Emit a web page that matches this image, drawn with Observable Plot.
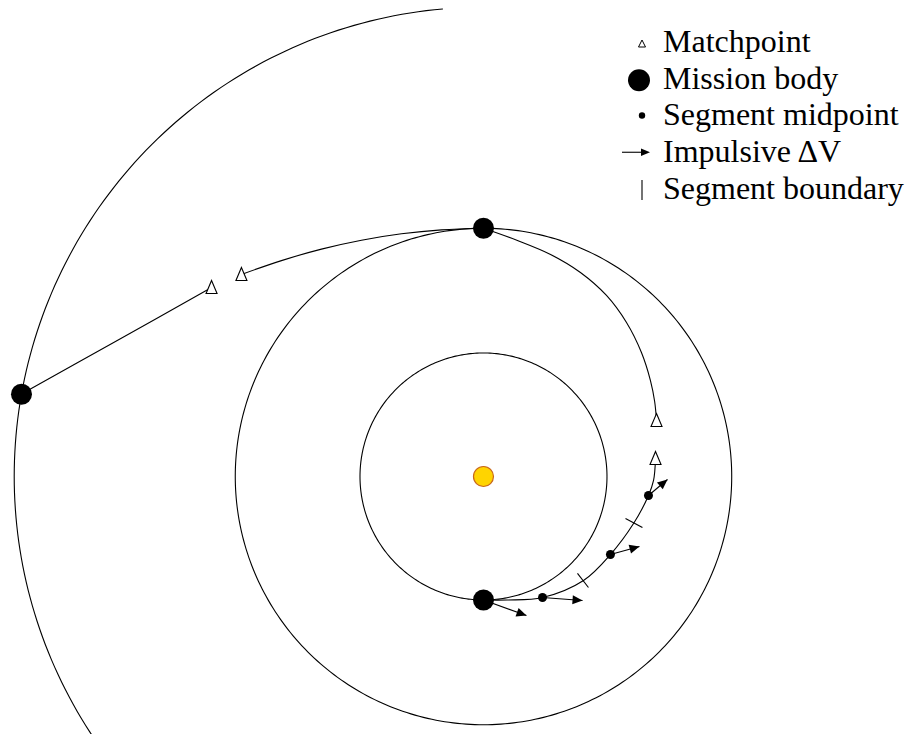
<!DOCTYPE html>
<html><head><meta charset="utf-8">
<script src="https://cdn.jsdelivr.net/npm/d3@7"></script>
<script src="https://cdn.jsdelivr.net/npm/@observablehq/plot@0.6"></script>
<style>
html,body{margin:0;padding:0;background:#fff;}
#wrap{position:relative;width:913px;height:734px;overflow:hidden;}
#wrap svg{display:block;}
#legendsym{position:absolute;left:0;top:0;}
</style></head><body><div id="wrap"></div>
<script>
// ---- data (units: inner orbit radius = 1) ----
const orbitRadii    = [1.00, 2.01, 3.80];
const orbitArcStart = [0, 0, 95];     // degrees
const orbitArcEnd   = [360, 360, 215];

const sunX = [0], sunY = [0];

const bodyX = [-3.741, 0, 0];
const bodyY = [0.666, 2.01, -1.00];

const legA_x = [-3.741, -2.980, -2.202];
const legA_y = [0.668, 1.093, 1.530];
const legB_x = [-1.960, -1.636, -1.312, -0.988, -0.664, -0.340, 0];
const legB_y = [1.636, 1.748, 1.841, 1.913, 1.965, 1.997, 2.01];
const legC_x = [0, 0.275, 0.543, 0.785, 0.996, 1.158, 1.279, 1.352, 1.386, 1.401];
const legC_y = [2.01, 1.911, 1.798, 1.652, 1.466, 1.247, 1.004, 0.777, 0.607, 0.453];
const legD_x = [1.393, 1.377, 1.336, 1.215, 1.028, 0.810, 0.478, 0.194, 0];
const legD_y = [0.146, -0.032, -0.154, -0.381, -0.632, -0.842, -0.980, -1.000, -1.00];

const matchX = [-2.202, -1.960, 1.401, 1.393];
const matchY = [1.530, 1.636, 0.453, 0.146];

const midX = [1.336, 1.028, 0.478];
const midY = [-0.154, -0.632, -0.980];

const bndX1 = [1.150, 0.761], bndY1 = [-0.340, -0.785];
const bndX2 = [1.287, 0.850], bndY2 = [-0.413, -0.899];

const dvX1 = [0, 0.478, 1.028, 1.336];
const dvY1 = [-1.00, -0.980, -0.632, -0.154];
const dvX2 = [0.348, 0.802, 1.263, 1.490];
const dvY2 = [-1.126, -1.004, -0.567, -0.024];

const legendLabels = ["Matchpoint", "Mission body", "Segment midpoint", "Impulsive\u2009\u0394V", "Segment boundary"];

// ---- derived tables ----
const orbitPts = [];
orbitRadii.forEach((r, i) => {
  for (let a = orbitArcStart[i]; a <= orbitArcEnd[i]; a += 1) {
    const t = a * Math.PI / 180;
    orbitPts.push({orbit: i, x: r * Math.cos(t), y: r * Math.sin(t)});
  }
});
const traj = [];
[[legA_x, legA_y], [legB_x, legB_y], [legC_x, legC_y], [legD_x, legD_y]].forEach(([xs, ys], i) =>
  xs.forEach((x, j) => traj.push({leg: i, x, y: ys[j]})));
const bodies = bodyX.map((x, i) => ({x, y: bodyY[i]}));
const matches = matchX.map((x, i) => ({x, y: matchY[i]}));
const mids = midX.map((x, i) => ({x, y: midY[i]}));
const bnds = bndX1.map((x, i) => ({x1: x, y1: bndY1[i], x2: bndX2[i], y2: bndY2[i]}));
const dvs = dvX1.map((x, i) => ({x1: x, y1: dvY1[i], x2: dvX2[i], y2: dvY2[i],
  angle: Math.atan2(dvX2[i] - x, dvY2[i] - dvY1[i]) * 180 / Math.PI}));

const triSym = {draw(ctx) { ctx.moveTo(0, -7); ctx.lineTo(5.5, 6); ctx.lineTo(-5.5, 6); ctx.closePath(); }};
const headSym = {draw(ctx) { ctx.moveTo(0, 0); ctx.lineTo(4.5, 10); ctx.lineTo(-4.5, 10); ctx.closePath(); }};

const chart = Plot.plot({
  width: 913, height: 734,
  margin: 0,
  style: {background: "white"},
  x: {domain: [-3.911, 3.482], axis: null},
  y: {domain: [-2.089, 3.854], axis: null},
  marks: [
    Plot.line(orbitPts, {x: "x", y: "y", z: "orbit", stroke: "black", strokeWidth: 1.1, clip: true}),
    Plot.line(traj, {x: "x", y: "y", z: "leg", stroke: "black", strokeWidth: 1.1, curve: "catmull-rom"}),
    Plot.link(bnds, {x1: "x1", y1: "y1", x2: "x2", y2: "y2", stroke: "black", strokeWidth: 1.1}),
    Plot.link(dvs, {x1: "x1", y1: "y1", x2: "x2", y2: "y2", stroke: "black", strokeWidth: 1.1}),
    Plot.dot(dvs, {x: "x2", y: "y2", symbol: headSym, r: 5, rotate: "angle", fill: "black", stroke: "none"}),
    Plot.dot(sunX.map((x, i) => ({x, y: sunY[i]})), {x: "x", y: "y", r: 10, fill: "#FFD400", stroke: "#C8661A", strokeWidth: 1.2}),
    Plot.dot(bodies, {x: "x", y: "y", r: 10.5, fill: "black"}),
    Plot.dot(mids, {x: "x", y: "y", r: 4.5, fill: "black"}),
    Plot.dot(matches, {x: "x", y: "y", symbol: triSym, r: 5, fill: "white", stroke: "black", strokeWidth: 1.1})
  ]
});
const wrap = document.getElementById("wrap");
wrap.appendChild(chart);

// ---- legend overlay (HTML text) ----
const base0 = 52, step = 36.75;
legendLabels.forEach((label, i) => {
  const div = document.createElement("div");
  div.setAttribute("style", `position:absolute;left:663px;top:${base0 + i * step - 29.2}px;white-space:nowrap;font-family:'Liberation Serif';font-size:32px;line-height:36.75px;color:#000;`);
  div.textContent = label;
  wrap.appendChild(div);
});

const lg = d3.select(wrap).append("svg").attr("id", "legendsym").attr("width", 913).attr("height", 734);
const sx = 642;
lg.append("path").attr("d", `M${sx},${base0 - 12}L${sx + 3.5},${base0 - 5}L${sx - 3.5},${base0 - 5}Z`)
  .attr("fill", "white").attr("stroke", "black").attr("stroke-width", 1);
lg.append("circle").attr("cx", 639).attr("cy", base0 + step - 8.5).attr("r", 11).attr("fill", "black");
lg.append("circle").attr("cx", sx).attr("cy", base0 + 2 * step - 10).attr("r", 3.2).attr("fill", "black");
const ay = base0 + 3 * step - 10;
lg.append("line").attr("x1", 622).attr("x2", 644).attr("y1", ay).attr("y2", ay).attr("stroke", "black").attr("stroke-width", 1.1);
lg.append("path").attr("d", `M650,${ay}L641,${ay - 3.8}L641,${ay + 3.8}Z`).attr("fill", "black");
const by = base0 + 4 * step;
lg.append("line").attr("x1", sx).attr("x2", sx).attr("y1", by - 19).attr("y2", by + 1).attr("stroke", "black").attr("stroke-width", 1.1);
</script>
</body></html>
